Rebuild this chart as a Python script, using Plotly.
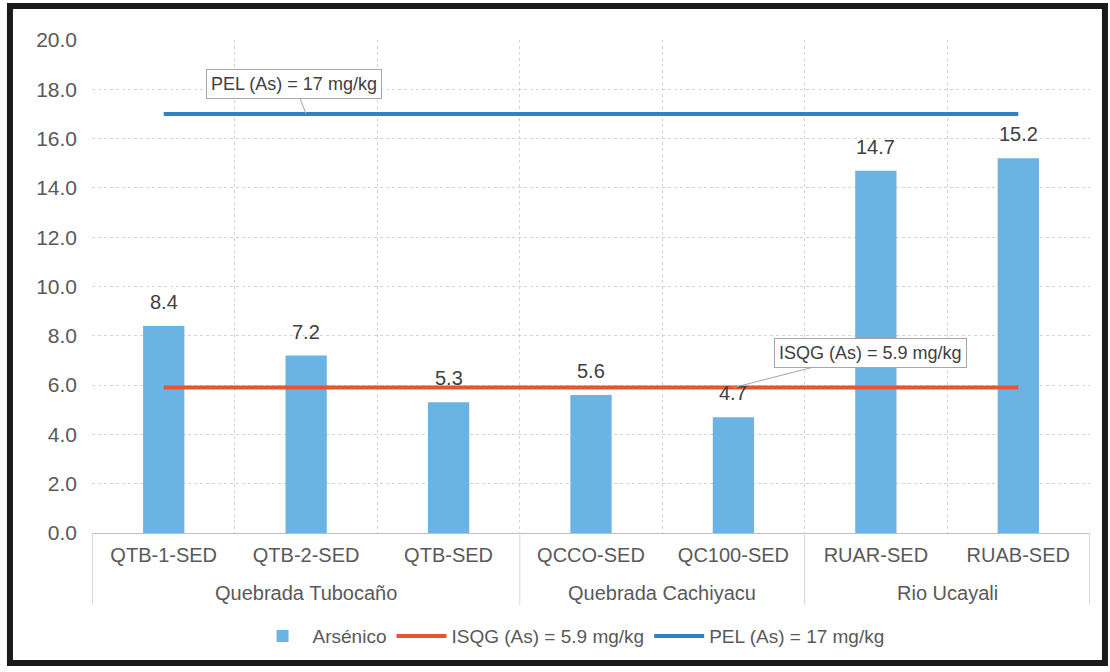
"""Arsenic in sediments versus ISQG and PEL guideline values."""

import plotly.graph_objects as go

stations = ["QTB-1-SED", "QTB-2-SED", "QTB-SED", "QCCO-SED", "QC100-SED", "RUAR-SED", "RUAB-SED"]
arsenic = [8.4, 7.2, 5.3, 5.6, 4.7, 14.7, 15.2]
groups = ["Quebrada Tubocaño", "Quebrada Cachiyacu", "Rio Ucayali"]
group_sizes = [3, 2, 2]
isqg = 5.9
pel = 17

_FONT = "Liberation Sans, Arial, sans-serif"
_TEXT = "#404040"
_TICK = "#595959"

fig = go.Figure()
fig.add_bar(
    x=stations,
    y=arsenic,
    name="Arsénico",
    marker={"color": "#6BB3E3", "line": {"width": 0}},
    width=0.29,
)
fig.add_scatter(
    x=stations, y=[isqg] * len(stations), mode="lines",
    name=f"ISQG (As) = {isqg} mg/kg", line={"color": "#E8552C", "width": 4},
)
fig.add_scatter(
    x=stations, y=[pel] * len(stations), mode="lines",
    name=f"PEL (As) = {pel} mg/kg", line={"color": "#2E83C6", "width": 4},
)

# value labels sit a little above each bar
for s, v in zip(stations, arsenic):
    fig.add_annotation(
        x=s, y=v, text=f"{v:.1f}", showarrow=False, yanchor="bottom", yshift=11,
        font={"size": 20, "color": _TEXT, "family": _FONT},
    )

# callout boxes with a leader line pointing at the guideline
fig.add_annotation(
    x=stations[1], y=pel, text=f"PEL (As) = {pel} mg/kg",
    showarrow=True, arrowhead=0, arrowcolor="#a6a6a6", arrowwidth=1,
    ax=-12, ay=-30, bgcolor="white", bordercolor="#a6a6a6", borderwidth=1, borderpad=4,
    font={"size": 18, "color": _TEXT, "family": _FONT},
)
fig.add_annotation(
    x=stations[4], y=isqg, text=f"ISQG (As) = {isqg} mg/kg",
    showarrow=True, arrowhead=0, arrowcolor="#a6a6a6", arrowwidth=1,
    ax=137, ay=-35, bgcolor="white", bordercolor="#a6a6a6", borderwidth=1, borderpad=4,
    font={"size": 18, "color": _TEXT, "family": _FONT},
)

# second level of the category axis: group names and dividers
start = 0
bounds = [-0.5]
for name, size in zip(groups, group_sizes):
    fig.add_annotation(
        x=start + (size - 1) / 2, xref="x", y=-0.122, yref="paper", yanchor="middle",
        text=name, showarrow=False, font={"size": 20, "color": _TICK, "family": _FONT},
    )
    start += size
    bounds.append(start - 0.5)
for b in bounds:
    fig.add_shape(
        type="line", xref="x", yref="paper", x0=b, x1=b, y0=0, y1=-0.146,
        line={"color": "#d9d9d9", "width": 1},
    )

# dark frame around the whole chart
fig.add_shape(
    type="rect", xref="paper", yref="paper",
    x0=-0.0822, x1=1.0150, y0=-0.2637, y1=1.0690,
    line={"color": "#1a1a1a", "width": 6}, fillcolor="rgba(0,0,0,0)", layer="below",
)

fig.update_layout(
    width=1110,
    height=672,
    margin={"l": 92, "r": 20, "t": 40, "b": 139},
    paper_bgcolor="white",
    plot_bgcolor="white",
    font={"family": _FONT, "size": 20, "color": _TICK},
    showlegend=True,
    legend={
        "orientation": "h", "x": 0.48, "xanchor": "center", "y": -0.209, "yanchor": "middle",
        "font": {"size": 19, "color": _TICK}, "traceorder": "normal", "itemwidth": 50,
    },
)
fig.update_xaxes(
    type="category",
    tickson="boundaries",
    showgrid=True, gridcolor="#d4d4d4", griddash="dot",
    showline=True, linecolor="#bfbfbf", linewidth=1,
    ticks="", ticklabelstandoff=4,
    tickfont={"size": 20, "color": _TICK},
)
fig.update_yaxes(
    range=[0, 20], dtick=2, tickformat=".1f",
    showgrid=True, gridcolor="#d4d4d4", griddash="dot",
    zeroline=False, ticks="", ticklabelstandoff=14,
    tickfont={"size": 21, "color": _TICK},
)

fig.write_html(
    "out.html",
    config={"displayModeBar": False},
    post_script="document.body.style.margin = '0';",
)
